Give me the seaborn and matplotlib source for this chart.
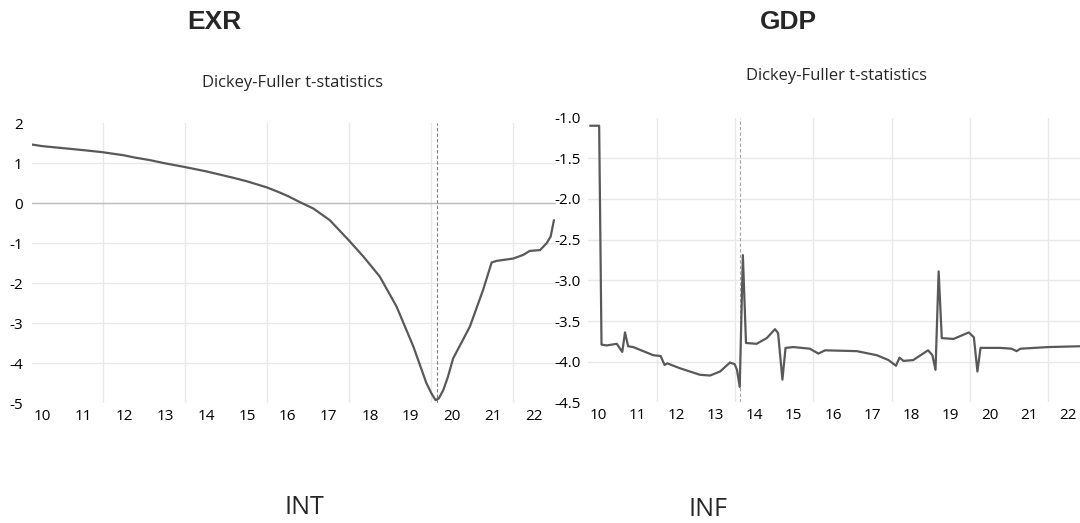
import numpy as np
import pandas as pd
import matplotlib
matplotlib.use("Agg")
import matplotlib.pyplot as plt
import seaborn as sns

# ---------------- data ----------------
exr_x = [9.75, 10.0, 10.6, 11.0, 11.46, 12.0, 12.23, 12.63, 13.0, 13.47, 14.0, 14.66,
         15.0, 15.48, 15.8, 16.0, 16.29, 16.62, 17.02, 17.49, 17.84, 18.24, 18.65,
         19.06, 19.38, 19.5, 19.6, 19.68, 19.79, 19.9, 20.03, 20.44, 20.76, 20.97,
         21.09, 21.5, 21.74, 21.9, 22.15, 22.31, 22.41, 22.49]
exr_t = [1.47, 1.43, 1.37, 1.33, 1.28, 1.20, 1.15, 1.08, 1.00, 0.91, 0.80, 0.64,
         0.55, 0.40, 0.27, 0.18, 0.03, -0.13, -0.42, -0.93, -1.33, -1.83, -2.58,
         -3.58, -4.50, -4.75, -4.92, -4.88, -4.67, -4.35, -3.88, -3.08, -2.17, -1.48,
         -1.44, -1.38, -1.29, -1.19, -1.17, -1.0, -0.83, -0.42]

gdp_x = [9.8, 10.03, 10.09, 10.22, 10.48, 10.62, 10.69, 10.77, 10.9, 11.41, 11.6,
         11.7, 11.77, 12.09, 12.6, 12.86, 13.12, 13.37, 13.49, 13.55, 13.62, 13.7,
         13.78, 14.05, 14.31, 14.52, 14.6, 14.71, 14.79, 14.99, 15.41, 15.63, 15.8,
         16.61, 17.12, 17.42, 17.61, 17.7, 17.8, 18.05, 18.43, 18.54, 18.62, 18.7,
         18.78, 19.08, 19.47, 19.6, 19.69, 19.77, 20.27, 20.56, 20.69, 20.79, 21.5,
         22.31, 22.5]
gdp_t = [-1.10, -1.10, -3.79, -3.80, -3.78, -3.88, -3.64, -3.81, -3.82, -3.92, -3.93,
         -4.04, -4.02, -4.08, -4.16, -4.17, -4.12, -4.01, -4.03, -4.10, -4.31, -2.69,
         -3.77, -3.78, -3.71, -3.60, -3.65, -4.22, -3.83, -3.82, -3.84, -3.90, -3.86,
         -3.87, -3.92, -3.98, -4.05, -3.95, -3.99, -3.98, -3.86, -3.92, -4.10, -2.89,
         -3.71, -3.72, -3.64, -3.70, -4.12, -3.83, -3.83, -3.84, -3.87, -3.84, -3.82,
         -3.81, -3.81]

year_ticks = list(range(10, 23))
year_labels = [str(y) for y in year_ticks]
exr_yticks = [2, 1, 0, -1, -2, -3, -4, -5]
gdp_yticks = [-1.0, -1.5, -2.0, -2.5, -3.0, -3.5, -4.0, -4.5]
grid_x = [11.5, 13.5, 15.5, 17.5, 19.5, 21.5]
exr_break = 19.64
gdp_break = 13.63

titles = ["EXR", "GDP"]
subtitle = "Dickey-Fuller t-statistics"
bottom_labels = ["INT", "INF"]

# ---------------- style ----------------
sns.set_style("white")
plt.rcParams['font.family'] = ['Open Sans', 'DejaVu Sans']
plt.rcParams['axes.unicode_minus'] = False

W, H = 1080, 523
fig = plt.figure(figsize=(W / 100, H / 100), dpi=100)

def frac_rect(x0, y_top, x1, y_bot):
    return [x0 / W, 1 - y_bot / H, (x1 - x0) / W, (y_bot - y_top) / H]

ax1 = fig.add_axes(frac_rect(31.7, 123.3, 556, 403.3))
ax2 = fig.add_axes(frac_rect(588, 117.6, 1080, 402.4))

df1 = pd.DataFrame({"year": exr_x, "t": exr_t})
df2 = pd.DataFrame({"year": gdp_x, "t": gdp_t})

line_color = "#595959"
grid_color = "#e8e8e8"

def style_axis(ax, xlim, ylim, yticks, yfmt, ypad):
    ax.set_xlim(*xlim)
    ax.set_ylim(*ylim)
    for v in grid_x:
        ax.axvline(v, color=grid_color, lw=1.0, zorder=0)
    for v in yticks[1:-1]:
        ax.axhline(v, color=grid_color, lw=1.0, zorder=0)
    ax.set_xticks(year_ticks)
    ax.set_xticklabels(year_labels)
    ax.set_yticks(yticks)
    ax.set_yticklabels([yfmt(v) for v in yticks])
    ax.tick_params(axis="both", length=0, labelsize=11, colors="#000000")
    ax.tick_params(axis="y", pad=ypad)
    ax.tick_params(axis="x", pad=4)
    for s in ax.spines.values():
        s.set_visible(False)
    ax.set_xlabel("")
    ax.set_ylabel("")

style_axis(ax1, (9.75, 22.54), (-5, 2), exr_yticks, lambda v: f"{v:d}", 6.5)
style_axis(ax2, (9.745, 22.31), (-4.5, -1.0), gdp_yticks, lambda v: f"{v:.1f}", 5)

ax1.axhline(0, color="#bfbfbf", lw=1.0, zorder=1)
ax1.axvline(exr_break, color="#7f7f7f", lw=0.8, ls=(0, (3, 2)), zorder=2)
ax2.axvline(gdp_break, color="#a6a6a6", lw=0.8, ls=(0, (3, 2)), zorder=2)

sns.lineplot(data=df1, x="year", y="t", ax=ax1, color=line_color, lw=1.6,
             estimator=None, sort=False, zorder=3)
sns.lineplot(data=df2, x="year", y="t", ax=ax2, color=line_color, lw=1.6,
             estimator=None, sort=False, zorder=3)
ax1.set_xlabel(""); ax1.set_ylabel("")
ax2.set_xlabel(""); ax2.set_ylabel("")

# ---------------- texts ----------------
def ftext(x, y, s, **kw):
    fig.text(x / W, 1 - y / H, s, ha="center", va="center", **kw)

ftext(214, 22, titles[0], fontsize=19, fontweight="bold", family=["Liberation Sans"])
ftext(788, 22, titles[1], fontsize=19, fontweight="bold", family=["Liberation Sans"])
ftext(293, 83, subtitle, fontsize=12)
ftext(836, 76, subtitle, fontsize=12)
ftext(304, 508, bottom_labels[0], fontsize=18)
ftext(708, 510, bottom_labels[1], fontsize=18)

fig.savefig("out.png", dpi=100)
